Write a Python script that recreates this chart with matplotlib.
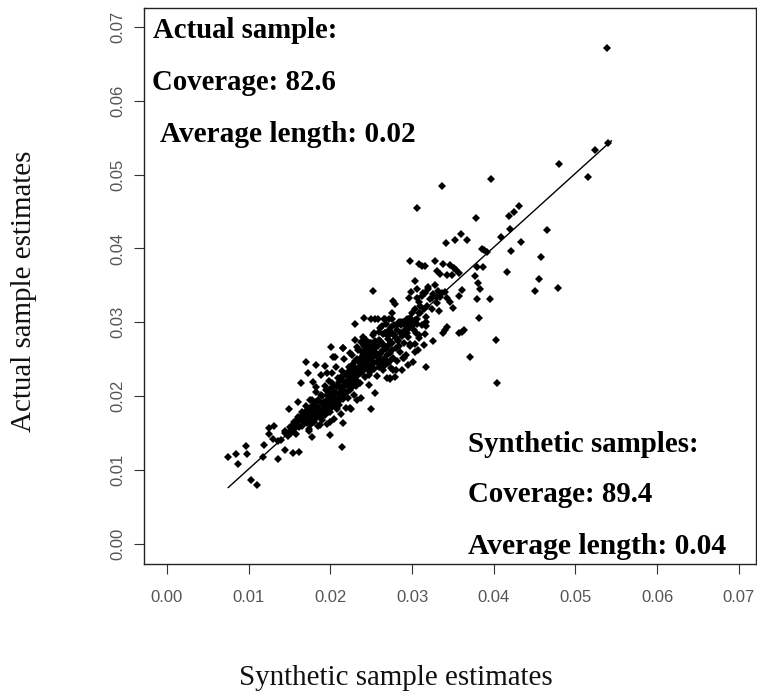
import matplotlib
matplotlib.use('Agg')
import matplotlib.pyplot as plt

# values
sparse_x = [.0075, .00845, .00873, .00967, .00983, .01032, .0110, .01183, .01179, .01359,
            .01252, .01313, .01252, .01301, .01362, .01444, .01546, .01619, .01444, .01493,
            .01607, .0164, .01698, .01738, .01779, .01995, .02142, .02158, .02493, .02007,
            .03966, .0337, .03064, .04304, .04247, .04182, .03778, .04202, .04655, .04092,
            .03602, .03668, .03521, .03411, .04329, .03856, .0388, .03913, .0421, .04574,
            .02978, .03088, .03118, .03154, .0328, .03375, .03464, .03513, .03537, .0357,
            .03309, .03341, .03431, .03485, .0379, .03864, .04158, .03766, .04557, .0479,
            .04508, .03803, .03831, .03614, .03578, .03794, .03953, .03035, .02521, .03199,
            .03064, .02987, .02966, .03064, .0313, .03403, .03362, .03431, .03464, .03497,
            .03301, .0324, .03333, .03819, .03423, .03403, .03382, .03635, .03607, .0357,
            .04023, .03709, .04035, .0317, .03252, .03146, .03088, .03158, .0317, .0317,
            .0317, .03035, .02954, .02901, .0273, .02803, .02411, .02493, .02586, .02656,
            .02301, .0277, .02791, .0275, .05386, .05398, .05239, .05153, .04798]
sparse_y = [.01175, .01216, .01085, .01324, .01216, .00859, .0080, .01338, .01171, .01144,
            .0156, .01596, .01479, .01411, .01388, .01266, .01221, .01235, .01493, .01818,
            .01913, .02179, .02464, .01528, .01446, .01474, .01311, .01636, .01818, .02659,
            .04948, .04844, .04546, .04577, .045, .04437, .0441, .0426, .04248, .04156,
            .04201, .04115, .04112, .04079, .04084, .03997, .0398, .03953, .03962, .03885,
            .03827, .0379, .03763, .03763, .03827, .0379, .0378, .0374, .0371, .03672,
            .03699, .03654, .03636, .03636, .03745, .03753, .03677, .03631, .03586, .03468,
            .03419, .03528, .0345, .03437, .0336, .03319, .03319, .03559, .03419, .03474,
            .03446, .03414, .03332, .03325, .03392, .03414, .034, .03325, .03278, .03197,
            .03338, .03325, .03152, .03061, .0294, .02894, .0285, .02894, .02867, .0285,
            .02763, .02524, .02179, .02388, .02745, .02691, .02826, .02844, .03075, .03007,
            .02948, .02596, .02415, .0251, .02225, .02347, .03061, .03047, .03047, .03047,
            .02976, .03292, .03243, .03121, .0672, .05432, .05337, .0497, .05147]

dense_x = [.0150, .0155, .0158, .0160, .0162, .0165, .0168, .0170, .0172, .0174,
           .0176, .0178, .0180, .0180, .0182, .0183, .0185, .0186, .0188, .0189,
           .0190, .0191, .0192, .0193, .0194, .0195, .0196, .0197, .0198, .0199,
           .0200, .0201, .0202, .0203, .0204, .0205, .0206, .0207, .0208, .0209,
           .0210, .0211, .0212, .0213, .0214, .0215, .0216, .0217, .0218, .0219,
           .0220, .0221, .0222, .0223, .0224, .0225, .0226, .0227, .0228, .0229,
           .0230, .0231, .0232, .0233, .0234, .0235, .0236, .0237, .0238, .0239,
           .0240, .0241, .0242, .0243, .0244, .0245, .0246, .0247, .0248, .0249,
           .0240, .0242, .0244, .0245, .0246, .0247, .0248, .0250, .0251, .0252,
           .0252, .0253, .0254, .0255, .0256, .0257, .0258, .0259, .0260, .0261,
           .0262, .0263, .0264, .0265, .0266, .0267, .0268, .0269, .0270, .0271,
           .0272, .0273, .0274, .0275, .0276, .0277, .0278, .0279, .0280, .0281,
           .0282, .0283, .0284, .0285, .0286, .0287, .0288, .0289, .0290, .0291,
           .0292, .0293, .0294, .0295, .0296, .0297, .0298, .0299, .0300, .0301,
           .0302, .0303, .0304, .0305, .0306, .0307, .0308, .0309, .0310, .0312]
dense_y = [.0152, .0165, .0148, .0172, .0158, .0178, .0163, .0186, .0171, .0155,
           .0180, .0195, .0165, .0172, .0212, .0187, .0160, .0178, .0201, .0229,
           .0168, .0183, .0192, .0241, .0174, .0208, .0162, .0186, .0221, .0197,
           .0178, .0205, .0231, .0189, .0169, .0214, .0196, .0240, .0182, .0225,
           .0203, .0188, .0212, .0175, .0234, .0196, .0221, .0250, .0205, .0184,
           .0215, .0229, .0198, .0240, .0208, .0182, .0222, .0256, .0236, .0201,
           .0248, .0213, .0229, .0194, .0262, .0240, .0218, .0273, .0252, .0232,
           .0245, .0259, .0226, .0276, .0238, .0252, .0268, .0215, .0244, .0260,
           .0256, .0248, .0262, .0238, .0255, .0229, .0272, .0250, .0265, .0238,
           .0283, .0256, .0245, .0305, .0266, .0227, .0251, .0276, .0240, .0292,
           .0258, .0270, .0235, .0284, .0250, .0305, .0264, .0225, .0277, .0245,
           .0290, .0258, .0238, .0272, .0305, .0251, .0283, .0226, .0265, .0296,
           .0247, .0275, .0300, .0260, .0285, .0296, .0235, .0301, .0272, .0290,
           .0302, .0255, .0296, .0280, .0304, .0300, .0268, .0293, .0300, .0246,
           .0297, .0270, .0303, .0285, .0298, .0262, .0312, .0278, .0322, .0296]

ridge_x = [.0140, .0144, .0148, .0150, .0152, .0154, .0156, .0158, .0160, .0162,
           .0164, .0165, .0167, .0168, .0170, .0171, .0172, .0173, .0174, .0175,
           .0176, .0177, .0178, .0179, .0180, .0181, .0182, .0183, .0184, .0185,
           .0186, .0187, .0188, .0189, .0190, .0191, .0192, .0193, .0194, .0195,
           .0196, .0197, .0198, .0199, .0200, .0201, .0202, .0203, .0204, .0205,
           .0206, .0207, .0208, .0209, .0210, .0211, .0212, .0213, .0214, .0215,
           .0216, .0217, .0218, .0219, .0220, .0221, .0222, .0223, .0224, .0225,
           .0226, .0227, .0228, .0229, .0230, .0231, .0232, .0233, .0234, .0235,
           .0236, .0237, .0238, .0239, .0240, .0241, .0242, .0243, .0244, .0245,
           .0246, .0247, .0248, .0249, .0250, .0251, .0252, .0253, .0254, .0255,
           .0256, .0257, .0258, .0259, .0260, .0261, .0262, .0263, .0264, .0265,
           .0266, .0267, .0268, .0269, .0270, .0271, .0272, .0273, .0274, .0275,
           .0276, .0278, .0280, .0282, .0284, .0286, .0288, .0290, .0292, .0294,
           .0296, .0298, .0300, .0302, .0304, .0306, .0308, .0310, .0312, .0314,
           .0316, .0318, .0320, .0322, .0324, .0326, .0328, .0330, .0332, .0334]
ridge_y = [.0140, .0152, .0146, .0158, .0150, .0161, .0155, .0166, .0160, .0168,
           .0172, .0160, .0175, .0168, .0180, .0164, .0176, .0168, .0183, .0172,
           .0162, .0176, .0186, .0168, .0179, .0192, .0170, .0182, .0175, .0195,
           .0183, .0172, .0190, .0178, .0200, .0175, .0187, .0213, .0181, .0193,
           .0201, .0178, .0190, .0210, .0196, .0184, .0218, .0202, .0192, .0188,
           .0206, .0190, .0213, .0198, .0219, .0204, .0195, .0226, .0209, .0203,
           .0212, .0199, .0228, .0217, .0206, .0222, .0233, .0215, .0227, .0211,
           .0232, .0218, .0244, .0227, .0238, .0222, .0250, .0235, .0228, .0246,
           .0240, .0231, .0261, .0248, .0235, .0268, .0253, .0241, .0270, .0259,
           .0247, .0263, .0233, .0254, .0272, .0244, .0260, .0268, .0237, .0275,
           .0258, .0246, .0268, .0287, .0254, .0275, .0246, .0295, .0262, .0271,
           .0241, .0285, .0298, .0255, .0268, .0281, .0305, .0248, .0293, .0263,
           .0285, .0296, .0278, .0290, .0268, .0300, .0282, .0298, .0285, .0305,
           .0292, .0306, .0312, .0290, .0318, .0305, .0328, .0312, .0335, .0318,
           .0340, .0322, .0345, .0331, .0318, .0338, .0350, .0326, .0342, .0334]

# outer edge of the cloud
edge_x = [.0183, .0224, .01995, .0187, .0238, .02546, .0273, .0289, .0206, .0216,
          .0233, .0175, .0183, .0179, .0173, .0196, .02158, .0240, .0253, .0230,
          .0203, .0224, .0267, .0283, .0294, .0297, .0269, .0277]
edge_y = [.0242, .0184, .0165, .0161, .0197, .0204, .0224, .0251, .0253, .0265,
          .0267, .0194, .0205, .0219, .0231, .0231, .0265, .0280, .0285, .0276,
          .0253, .0258, .0285, .0276, .0285, .0271, .0248, .0235]

line_x = [.0075, .0544]
line_y = [.0076, .0546]
ticks = [0.00, 0.01, 0.02, 0.03, 0.04, 0.05, 0.06, 0.07]

serif = 'Liberation Serif'
sans = 'Liberation Sans'

fig = plt.figure(figsize=(7.57, 6.91), dpi=100)
ax = fig.add_axes([143.7 / 757, 1 - 564 / 691, (756 - 143.7) / 757, (564 - 8) / 691])

ax.plot(sparse_x + dense_x + ridge_x + edge_x, sparse_y + dense_y + ridge_y + edge_y,
        linestyle='none', marker='D', color='black', markersize=4, markeredgewidth=0)
ax.plot(line_x, line_y, color='black', linewidth=1)

ax.set_xlim(-0.00285, 0.0721)
ax.set_ylim(-0.00277, 0.0726)
ax.set_xticks(ticks)
ax.set_yticks(ticks)
ax.set_xticklabels(['%.2f' % t for t in ticks], fontname=sans, fontsize=12, color='#555555')
ax.set_yticklabels(['%.2f' % t for t in ticks], fontname=sans, fontsize=12, color='#555555',
                   rotation=90, va='center')
ax.tick_params(axis='x', length=7, width=0.8, color='#333333', pad=12)
ax.tick_params(axis='y', length=7, width=0.8, color='#333333', pad=6)
for s in ax.spines.values():
    s.set_linewidth(1)
    s.set_color('#222222')

fig.text(396 / 757, 1 - 678 / 691, 'Synthetic sample estimates', fontname=serif, fontsize=20.9,
         ha='center', va='center', color='#111111')
fig.text(24 / 757, 1 - 291 / 691, 'Actual sample estimates', fontname=serif, fontsize=20.9,
         rotation=90, ha='center', va='center', color='#111111')

notes = [('Actual sample:', 153, 30, 20.7), ('Coverage: 82.6', 152, 83, 20.7),
         ('Average length: 0.02', 160, 134, 21.1), ('Synthetic samples:', 468, 444, 20.8),
         ('Coverage: 89.4', 468, 495, 20.8), ('Average length: 0.04', 468, 546, 21.3)]
for txt, px, py, size in notes:
    fig.text(px / 757, 1 - py / 691, txt, fontname=serif, fontsize=size, fontweight='bold',
             ha='left', va='center', color='black')

fig.savefig('out.png', dpi=100)
